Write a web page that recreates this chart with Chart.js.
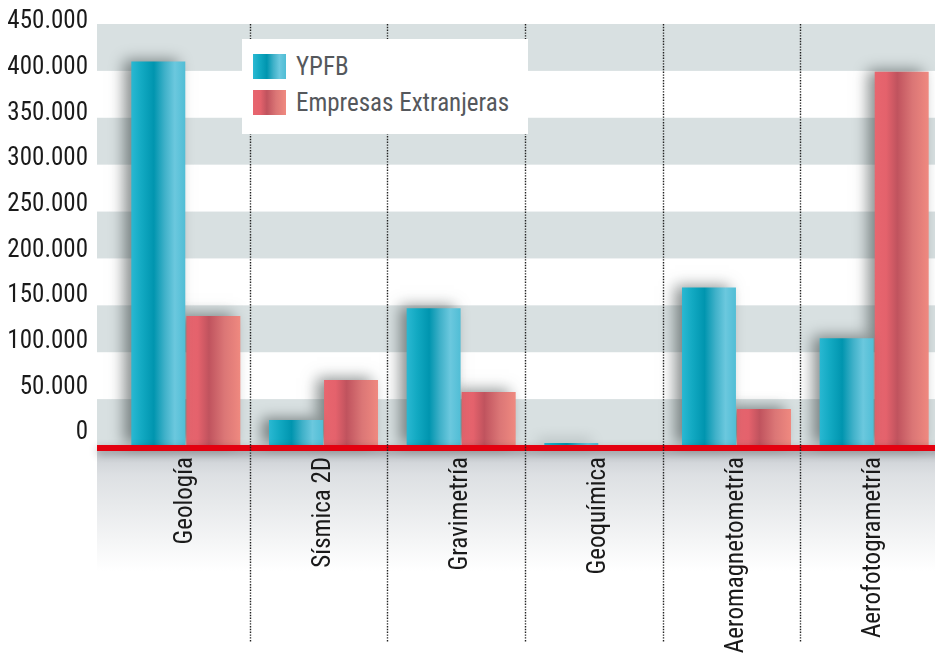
<!DOCTYPE html>
<html>
<head>
<meta charset="utf-8">
<script src="https://cdn.jsdelivr.net/npm/chart.js@4.4.1/dist/chart.umd.min.js"></script>
<style>
html, body { margin: 0; padding: 0; background: #fff; overflow: hidden; width: 935px; height: 656px; }
#wrap { position: relative; width: 945px; height: 656px; }
#legend {
    position: absolute; left: 242px; top: 39px; width: 286px; height: 95px;
    background: #fff; color: #55585c;
    font-family: "Liberation Sans Narrow", "Roboto Condensed", "DejaVu Sans Condensed", sans-serif;
    font-size: 25px;
}
#legend .item { position: absolute; left: 11px; height: 25px; line-height: 25px; white-space: nowrap; }
#legend .sw { display: inline-block; width: 33px; height: 25px; vertical-align: top; margin-right: 10px; }
</style>
</head>
<body>
<div id="wrap">
    <canvas id="plots" width="945" height="656"></canvas>
    <div id="legend"></div>
</div>
<script>
// categories (X-axis) and the two series
var categorias = ["Geología", "Sísmica 2D", "Gravimetría", "Geoquímica", "Aeromagnetometría", "Aerofotogrametría"];
var ypfb = [410000, 27700, 147000, 3200, 169000, 115000];
var extranjeras = [138500, 70300, 57500, 0, 39400, 399000];
var series = ["YPFB", "Empresas Extranjeras"];
// Y-axis ticks and their labels
var ticksY = [0, 50000, 100000, 150000, 200000, 250000, 300000, 350000, 400000, 450000];
var ejeY = ["0", "50.000", "100.000", "150.000", "200.000", "250.000", "300.000", "350.000", "400.000", "450.000"];

var fuente = '"Liberation Sans Narrow", "Roboto Condensed", "DejaVu Sans Condensed", sans-serif';

// colour stops across each bar (left -> right)
var stopsYpfb = [[0, "#2bb9d3"], [0.2, "#12a9c2"], [0.42, "#0095af"], [0.62, "#40b1c9"], [0.8, "#6bc8de"], [1, "#4fbdd5"]];
var stopsExt = [[0, "#e8666f"], [0.22, "#e4626c"], [0.42, "#c0535e"], [0.7, "#db7676"], [1, "#f08a80"]];

function barGradient(stops, lado) {
    return function (c) {
        var chart = c.chart, x = chart.scales.x;
        if (!x || c.dataIndex === undefined || !x.width) return stops[0][1];
        var w = x.width / categorias.length * 0.8 / 2;
        var centro = x.getPixelForValue(c.dataIndex);
        var left = lado === 0 ? centro - w : centro;
        var g = chart.ctx.createLinearGradient(left, 0, left + w, 0);
        stops.forEach(function (s) { g.addColorStop(s[0], s[1]); });
        return g;
    };
}

// bands, bottom fade, bar shadow, red base line and dotted separators
var decor = {
    id: 'decor',
    beforeDraw: function (chart) {
        var ctx = chart.ctx, a = chart.chartArea, y = chart.scales.y;
        var x0 = a.left - 20, x1 = chart.width;
        ctx.save();
        ctx.fillStyle = "#d8e0e1";
        for (var v = 0; v < 450000; v += 100000) {
            var top = y.getPixelForValue(v + 50000), bot = y.getPixelForValue(v);
            ctx.fillRect(x0, top, x1 - x0, bot - top);
        }
        var g = ctx.createLinearGradient(0, a.bottom + 5, 0, a.bottom + 125);
        g.addColorStop(0, "#c9cdd2");
        g.addColorStop(0.2, "#dde0e3");
        g.addColorStop(1, "rgba(255,255,255,1)");
        ctx.fillStyle = g;
        ctx.fillRect(x0, a.bottom + 5, x1 - x0, 120);
        ctx.restore();
    },
    beforeDatasetsDraw: function (chart) {
        var ctx = chart.ctx;
        ctx.save();
        ctx.shadowColor = "rgba(40,50,50,0.55)";
        ctx.shadowBlur = 14;
        ctx.shadowOffsetX = -7;
        ctx.shadowOffsetY = -2;
    },
    afterDatasetsDraw: function (chart) {
        var ctx = chart.ctx, a = chart.chartArea, x = chart.scales.x;
        ctx.restore();
        ctx.save();
        // red base line
        ctx.shadowColor = "rgba(0,0,0,0.3)";
        ctx.shadowBlur = 8;
        ctx.shadowOffsetY = 3;
        ctx.fillStyle = "#e3000f";
        ctx.fillRect(a.left - 20, a.bottom - 1, chart.width - a.left + 20, 6);
        ctx.restore();
        // dotted separators
        ctx.save();
        ctx.strokeStyle = "#222";
        ctx.lineWidth = 1.4;
        ctx.setLineDash([1.4, 1.4]);
        for (var i = 1; i < categorias.length; i++) {
            var px = Math.round((x.getPixelForValue(i - 1) + x.getPixelForValue(i)) / 2 - 5) + 0.5;
            ctx.beginPath();
            ctx.moveTo(px, a.top);
            ctx.lineTo(px, 642);
            ctx.stroke();
        }
        ctx.restore();
    }
};

var plots = document.getElementById("plots");
var chart = new Chart(plots, {
    type: 'bar',
    data: {
        labels: categorias,
        datasets: [{
            label: series[0],
            data: ypfb,
            backgroundColor: barGradient(stopsYpfb, 0),
            borderWidth: 0,
            clip: false
        }, {
            label: series[1],
            data: extranjeras,
            backgroundColor: barGradient(stopsExt, 1),
            borderWidth: 0,
            clip: false
        }]
    },
    options: {
        responsive: false,
        animation: false,
        devicePixelRatio: 1,
        layout: { padding: { top: 24, right: 2, left: 0, bottom: 0 } },
        plugins: {
            legend: { display: false },
            tooltip: { enabled: false }
        },
        datasets: { bar: { categoryPercentage: 0.8, barPercentage: 0.98 } },
        scales: {
            x: {
                grid: { display: false },
                border: { display: false },
                ticks: {
                    minRotation: 90, maxRotation: 90, autoSkip: false,
                    padding: 3,
                    color: "#1a1a1a",
                    font: { family: fuente, size: 25 }
                },
                afterFit: function (s) {
                    s.height = 210;
                    s.paddingLeft = 0;
                    s.paddingRight = 0;
                }
            },
            // value scale for the bars (hidden, labels come from yEtiq)
            y: {
                display: false,
                min: 0, max: 450000
            },
            // label axis: in the original the labels sit a little tighter than the bands
            yEtiq: {
                type: 'linear',
                position: 'left',
                min: -14234, max: 447810,
                grid: { display: false },
                border: { display: false },
                afterBuildTicks: function (s) {
                    s.ticks = ticksY.map(function (v) { return { value: v }; });
                },
                ticks: {
                    padding: 21,
                    color: "#1a1a1a",
                    font: { family: fuente, size: 25 },
                    callback: function (v) { return ejeY[ticksY.indexOf(v)]; }
                },
                afterFit: function (s) {
                    s.width = 117;
                    s.paddingTop = 0;
                    s.paddingBottom = 0;
                }
            }
        }
    },
    plugins: [decor]
});

// legend box built from the dataset labels
var legend = document.getElementById("legend");
var swatches = [stopsYpfb, stopsExt];
series.forEach(function (name, i) {
    var item = document.createElement("div");
    item.className = "item";
    item.style.top = (15 + i * 36) + "px";
    var sw = document.createElement("span");
    sw.className = "sw";
    sw.style.background = "linear-gradient(to right, " + swatches[i].map(function (s) { return s[1] + " " + (s[0] * 100) + "%"; }).join(", ") + ")";
    item.appendChild(sw);
    item.appendChild(document.createTextNode(name));
    legend.appendChild(item);
});
</script>
</body>
</html>
